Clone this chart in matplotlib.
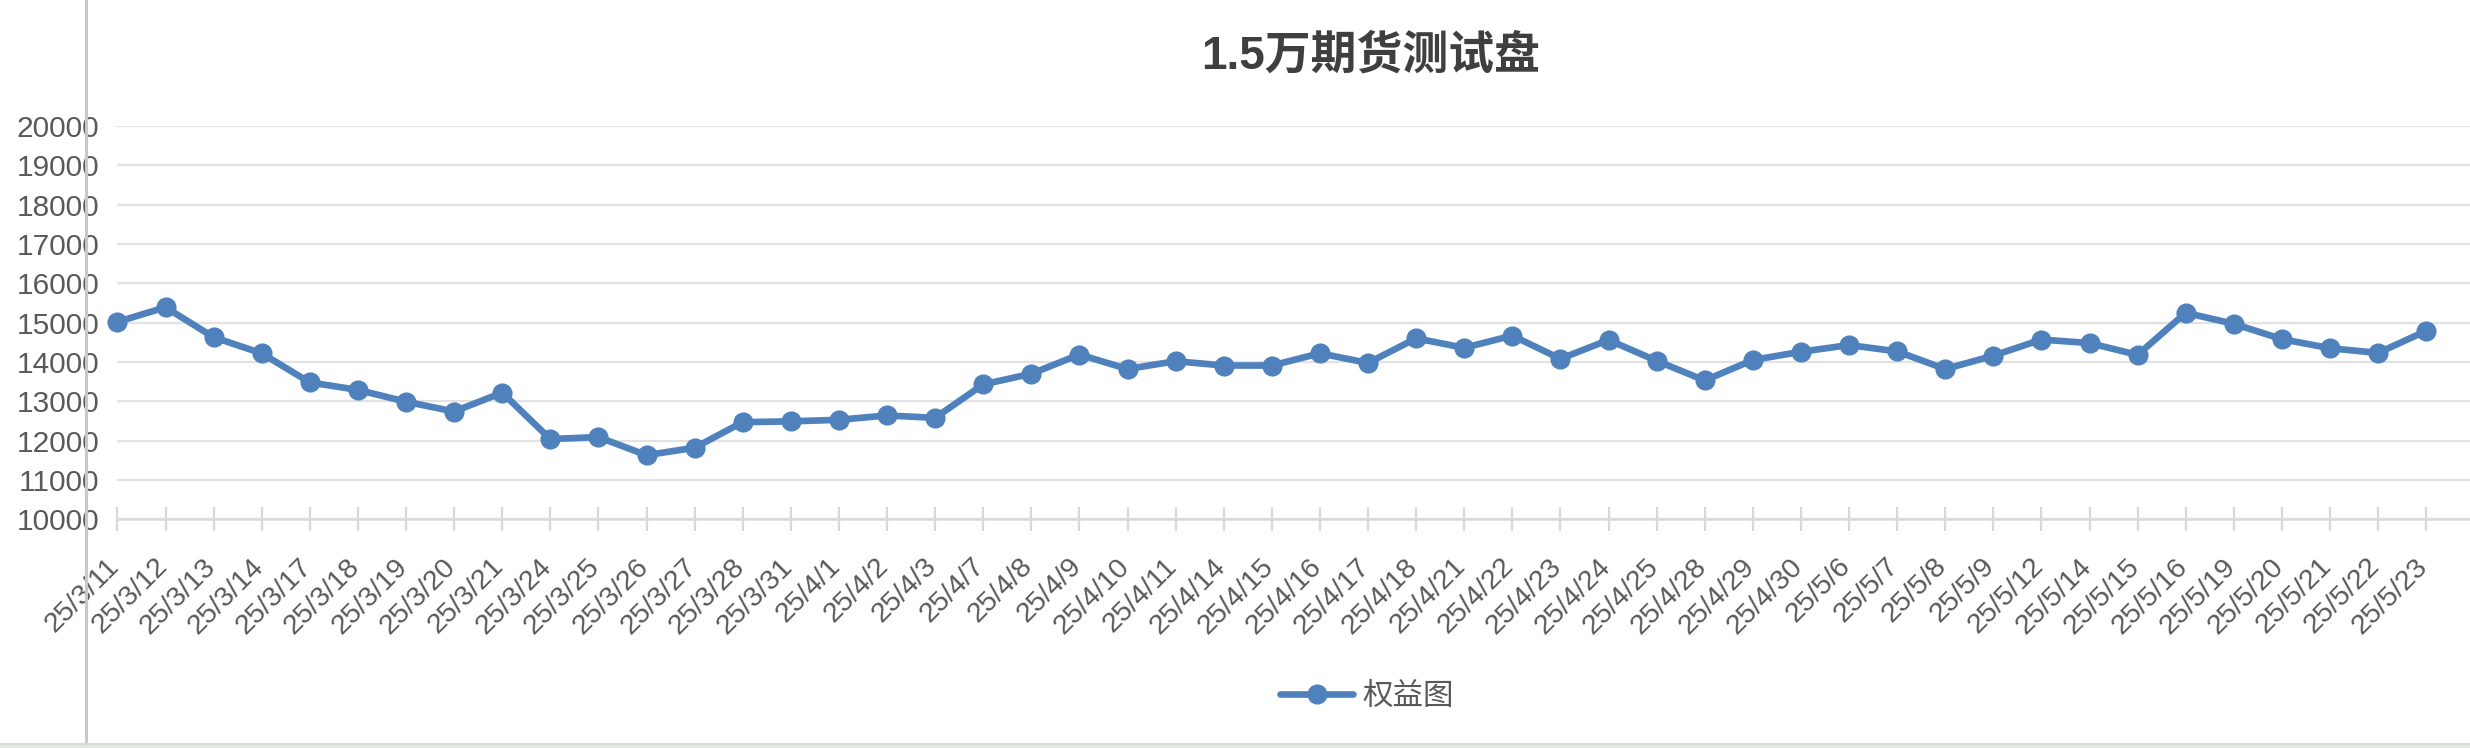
import numpy as np
import matplotlib
matplotlib.use("Agg")
import matplotlib.pyplot as plt
from matplotlib.lines import Line2D
from matplotlib.patches import Rectangle
import matplotlib.transforms as mtransforms

# data
dates = ["25/3/11", "25/3/12", "25/3/13", "25/3/14", "25/3/17", "25/3/18", "25/3/19",
         "25/3/20", "25/3/21", "25/3/24", "25/3/25", "25/3/26", "25/3/27", "25/3/28",
         "25/3/31", "25/4/1", "25/4/2", "25/4/3", "25/4/7", "25/4/8", "25/4/9",
         "25/4/10", "25/4/11", "25/4/14", "25/4/15", "25/4/16", "25/4/17", "25/4/18",
         "25/4/21", "25/4/22", "25/4/23", "25/4/24", "25/4/25", "25/4/28", "25/4/29",
         "25/4/30", "25/5/6", "25/5/7", "25/5/8", "25/5/9", "25/5/12", "25/5/14",
         "25/5/15", "25/5/16", "25/5/19", "25/5/20", "25/5/21", "25/5/22", "25/5/23"]
equity = [15020, 15390, 14630, 14220, 13480, 13290, 12990,
          12740, 13220, 12040, 12090, 11630, 11820, 12470,
          12490, 12530, 12640, 12580, 13430, 13700, 14190,
          13820, 14020, 13910, 13910, 14220, 13975, 14600,
          14360, 14670, 14080, 14560, 14030, 13530, 14050,
          14260, 14430, 14270, 13820, 14160, 14570, 14480,
          14180, 15250, 14970, 14580, 14350, 14230, 14790]
y_ticks = list(range(10000, 20001, 1000))
title = "1.5万期货测试盘"
series_name = "权益图"

blue = "#4f81bd"
text_gray = "#595959"

plt.rcParams['font.family'] = ['Liberation Sans', 'Noto Sans CJK SC', 'DejaVu Sans']

W, H = 2470, 748
fig = plt.figure(figsize=(W / 100, H / 100), dpi=100)
ax = fig.add_axes([117.4 / W, 1 - 519.3 / H, 1 - 117.4 / W, (519.3 - 126) / H])

x = np.arange(len(dates))
ax.plot(x, equity, color=blue, lw=4.8, marker='o', markersize=13.5,
        markeredgecolor=blue, clip_on=False, zorder=3, solid_joinstyle='round')

ax.set_xlim(0, (W - 117.4) / 48.1)
ax.set_ylim(10000, 20000)
ax.set_yticks(y_ticks)
ax.set_xticks(x)
ax.set_xticklabels(dates, rotation=45, ha='right', va='top')

ax.grid(axis='y', color='#e2e2e2', lw=1.6)
ax.set_axisbelow(True)
for s in ['top', 'right', 'left']:
    ax.spines[s].set_visible(False)
ax.spines['bottom'].set_color('#d9d9d9')
ax.spines['bottom'].set_linewidth(1.8)

ax.tick_params(axis='x', direction='inout', length=17, width=1.6, color='#d9d9d9',
               labelsize=20.5, labelcolor=text_gray, pad=16)
ax.tick_params(axis='y', length=0, labelsize=21.5, labelcolor=text_gray, pad=13)

shift = mtransforms.ScaledTranslation(7 / 100, 0, fig.dpi_scale_trans)
for lab in ax.get_xticklabels():
    lab.set_transform(lab.get_transform() + shift)

fig.text(1371 / W, 1 - 57 / H, title, ha='center', va='center', fontsize=33,
         fontweight='bold', color='#3f3f3f')

handle = Line2D([], [], color=blue, lw=4.8, marker='o', markersize=13.5,
                solid_capstyle='round')
fig.legend([handle], [series_name], loc='center', bbox_to_anchor=(1367 / W, 1 - 696 / H),
           frameon=False, handlelength=2.4, handletextpad=0.3,
           prop={'family': ['Noto Sans CJK SC'], 'size': 22}, labelcolor=text_gray)

# spreadsheet borders around the pasted chart
fig.add_artist(Line2D([86 / W, 86 / W], [5 / H, 1], color='#c8c8c8', lw=2.2, zorder=10))
fig.add_artist(Line2D([0, 1], [4.5 / H, 4.5 / H], color='#d9d9d9', lw=1.5, zorder=10))
fig.add_artist(Rectangle((0, 0), 1, 3.5 / H, color='#dcebdc', zorder=9))

fig.savefig("out.png", dpi=100, facecolor='white')
